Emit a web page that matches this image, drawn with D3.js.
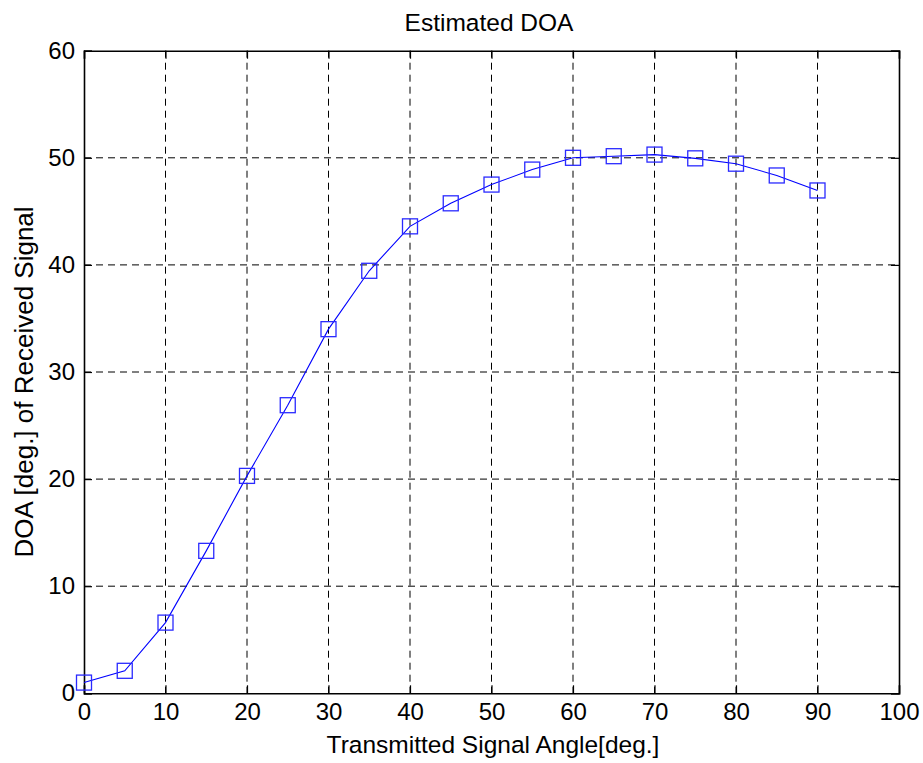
<!DOCTYPE html>
<html>
<head>
<meta charset="utf-8">
<script src="https://cdn.jsdelivr.net/npm/d3@7"></script>
<style>
  html, body { margin: 0; padding: 0; background: #fff; }
  svg { display: block; font-family: "Liberation Sans", Arial, Helvetica, sans-serif; }
</style>
</head>
<body>
<svg id="chart" width="923" height="763"></svg>
<script>
// ---- data ----
const xAngles = [0, 5, 10, 15, 20, 25, 30, 35, 40, 45, 50, 55, 60, 65, 70, 75, 80, 85, 90];
const doaValues = [1.0, 2.1, 6.6, 13.3, 20.3, 26.9, 34.0, 39.45, 43.6, 45.75, 47.5, 48.9, 50.0, 50.15, 50.3, 49.95, 49.45, 48.35, 46.95];
const xTicks = [0, 10, 20, 30, 40, 50, 60, 70, 80, 90, 100];
const yTicks = [0, 10, 20, 30, 40, 50, 60];
const titleText = "Estimated DOA";
const xLabelText = "Transmitted Signal Angle[deg.]";
const yLabelText = "DOA [deg.] of Received Signal";

// ---- layout ----
const pL = 84, pR = 899, pT = 50.7, pB = 693.3;
const svg = d3.select("#chart");
const x = d3.scaleLinear().domain([0, 100]).range([pL, pR]);
const y = d3.scaleLinear().domain([0, 60]).range([pB, pT]);

// grid
const grid = svg.append("g");
grid.selectAll("line.gx").data(xTicks.slice(1, -1)).enter().append("line")
  .attr("x1", d => x(d)).attr("x2", d => x(d)).attr("y1", pT).attr("y2", pB)
  .attr("stroke", "#000").attr("stroke-width", 1).attr("stroke-dasharray", "7,5");
grid.selectAll("line.gy").data(yTicks.slice(1, -1)).enter().append("line")
  .attr("y1", d => y(d)).attr("y2", d => y(d)).attr("x1", pL).attr("x2", pR)
  .attr("stroke", "#000").attr("stroke-width", 1).attr("stroke-dasharray", "7,5");

// axes
const fs = 24;
const xAxisB = d3.axisBottom(x).tickValues(xTicks).tickSize(-8).tickPadding(10).tickFormat(d3.format("d"));
const xAxisT = d3.axisTop(x).tickValues(xTicks).tickSize(-8).tickFormat("");
const yAxisL = d3.axisLeft(y).tickValues(yTicks).tickSize(-8).tickPadding(9).tickFormat(d3.format("d"));
const yAxisR = d3.axisRight(y).tickValues(yTicks).tickSize(-8).tickFormat("");

function styleAxis(g) {
  g.select(".domain").attr("stroke", "#000").attr("stroke-width", 1.6);
  g.selectAll(".tick line").attr("stroke", "#000").attr("stroke-width", 1.2);
  g.selectAll(".tick text").attr("fill", "#000").style("font-size", fs + "px")
    .style("font-family", "'Liberation Sans', Arial, sans-serif");
}
svg.append("g").attr("transform", `translate(0,${pB})`).call(xAxisB).call(styleAxis);
svg.append("g").attr("transform", `translate(0,${pT})`).call(xAxisT).call(styleAxis);
svg.append("g").attr("transform", `translate(${pL},0)`).call(yAxisL).call(styleAxis);
svg.append("g").attr("transform", `translate(${pR},0)`).call(yAxisR).call(styleAxis);

// line
const pts = xAngles.map((a, i) => [a, doaValues[i]]);
svg.append("path").datum(pts)
  .attr("fill", "none").attr("stroke", "#0000ff").attr("stroke-width", 1.1)
  .attr("d", d3.line().x(d => x(d[0])).y(d => y(d[1])));

// markers
const ms = 15;
svg.append("g").selectAll("rect").data(pts).enter().append("rect")
  .attr("x", d => x(d[0]) - ms / 2).attr("y", d => y(d[1]) - ms / 2)
  .attr("width", ms).attr("height", ms)
  .attr("fill", "none").attr("stroke", "#2a2aff").attr("stroke-width", 1.3);

// texts
svg.append("text").attr("x", 489).attr("y", 30.5).attr("text-anchor", "middle")
  .style("font-size", "24.5px").text(titleText);
svg.append("text").attr("x", 493).attr("y", 752.5).attr("text-anchor", "middle")
  .style("font-size", "24.5px").text(xLabelText);
svg.append("text").attr("transform", "translate(33,382) rotate(-90)").attr("text-anchor", "middle")
  .style("font-size", "26px").text(yLabelText);
</script>
</body>
</html>
